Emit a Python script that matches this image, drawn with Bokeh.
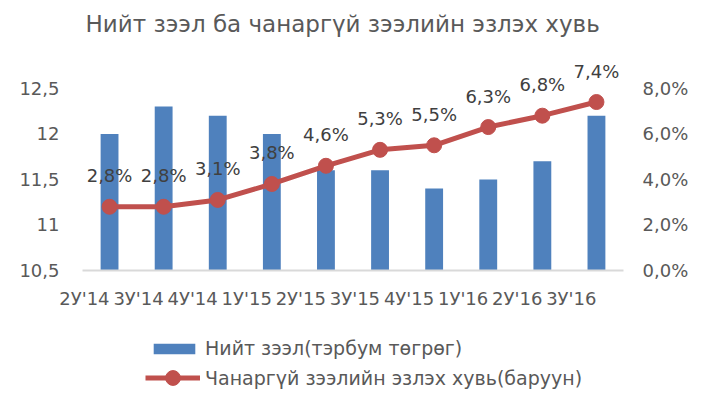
from bokeh.plotting import figure
from bokeh.layouts import column
from bokeh.models import (Range1d, LinearAxis, FixedTicker, CustomJSTickFormatter,
                          Legend, LegendItem, FactorRange, ColumnDataSource, Title)
from bokeh.core.properties import value
from bokeh.embed import file_html
from bokeh.resources import INLINE

# ---- data ----
categories = ["2У'14", "3У'14", "4У'14", "1У'15", "2У'15", "3У'15",
              "4У'15", "1У'16", "2У'16", "3У'16"]
total_loans = [12.0, 12.3, 12.2, 12.0, 11.6, 11.6, 11.4, 11.5, 11.7, 12.2]
npl_share = [2.8, 2.8, 3.1, 3.8, 4.6, 5.3, 5.5, 6.3, 6.8, 7.4]
left_ticks = [10.5, 11.0, 11.5, 12.0, 12.5]
right_ticks = [0, 2, 4, 6, 8]
title_text = "Нийт зээл ба чанаргүй зээлийн эзлэх хувь"
bar_label = "Нийт зээл(тэрбум төгрөг)"
line_label = "Чанаргүй зээлийн эзлэх хувь(баруун)"

BLUE = "#4f81bd"
RED = "#c0504d"
TXT = "#595959"
FONT = "DejaVu Sans"
FS = "18px"

src = ColumnDataSource(dict(
    cat=categories, loans=total_loans, npl=npl_share,
    lab=[f"{v:.1f}".replace(".", ",") + "%" for v in npl_share],
    base=[left_ticks[0]] * len(categories),
))

xr = FactorRange(*categories)

# ---- title strip ----
tf = figure(width=691, height=45, x_range=xr, y_range=Range1d(0, 1),
            output_backend="svg", toolbar_location=None,
            x_axis_location=None, y_axis_location=None,
            min_border=0, outline_line_color=None)
tf.grid.visible = False
tf.title = Title(text=title_text, text_font=FONT, text_font_size="23px",
                 text_color=TXT, text_font_style="normal", align="left",
                 offset=3, standoff=16)

# ---- main chart ----
p = figure(width=691, height=277, x_range=xr,
           y_range=Range1d(10.5, 12.806), output_backend="svg",
           toolbar_location=None, min_border_left=82, min_border_right=0,
           min_border_bottom=51, min_border_top=15)
p.extra_y_ranges = {"pct": Range1d(0, 9.224)}
p.title.visible = False

p.outline_line_color = None
p.xgrid.visible = False
p.ygrid.visible = False

# left axis
la = p.yaxis[0]
la.ticker = FixedTicker(ticks=left_ticks)
la.formatter = CustomJSTickFormatter(
    code="return (Math.round(tick*10)/10).toString().replace('.', ',');")
la.axis_line_color = None
la.major_tick_line_color = None
la.minor_tick_line_color = None
la.major_label_text_font = FONT
la.major_label_text_font_size = FS
la.major_label_text_color = TXT
la.major_label_standoff = 17

# right axis
ra = LinearAxis(y_range_name="pct", ticker=FixedTicker(ticks=right_ticks),
                formatter=CustomJSTickFormatter(
                    code="return tick.toFixed(1).replace('.', ',') + '%';"))
ra.axis_line_color = None
ra.major_tick_line_color = None
ra.minor_tick_line_color = None
ra.major_label_text_font = FONT
ra.major_label_text_font_size = FS
ra.major_label_text_color = TXT
ra.major_label_standoff = 13
p.add_layout(ra, "right")

# x axis
xa = p.xaxis[0]
xa.axis_line_color = "#d9d9d9"
xa.axis_line_width = 2
xa.major_tick_line_color = None
xa.minor_tick_line_color = None
xa.major_label_text_font = FONT
xa.major_label_text_font_size = FS
xa.major_label_text_color = TXT
xa.major_label_standoff = 22
xa.major_label_orientation = 0

p.vbar(x="cat", top="loans", bottom="base", width=0.33, source=src,
       fill_color=BLUE, line_color=None)
p.line(x="cat", y="npl", source=src, y_range_name="pct",
       line_color=RED, line_width=5)
p.scatter(x="cat", y="npl", source=src, y_range_name="pct", size=15,
          fill_color=RED, line_color=RED)
p.text(x="cat", y="npl", text="lab", source=src, y_range_name="pct",
       y_offset=-31, text_align="center", text_baseline="middle",
       text_font=value(FONT), text_font_size=FS, text_color="#404040")

# ---- legend strip: same series with zero-size marks out of the visible
# range, so only the legend swatches show ----
lg = figure(width=691, height=67, x_range=xr, y_range=Range1d(-2, -1),
            output_backend="svg", toolbar_location=None,
            x_axis_location=None, y_axis_location=None,
            min_border=0, outline_line_color=None)
lg.grid.visible = False
sw_bar = lg.vbar(x="cat", top="loans", bottom="base", width=0, source=src,
                 fill_color=BLUE, line_color=None)
sw_line = lg.line(x="cat", y="npl", source=src, line_color=RED, line_width=5)
sw_dot = lg.scatter(x="cat", y="npl", source=src, size=0,
                    fill_color=RED, line_color=RED)

common = dict(orientation="vertical", label_standoff=5, label_text_font=FONT,
              label_text_font_size="19px", label_text_color=TXT, padding=0,
              margin=0, border_line_color=None, background_fill_alpha=0)
leg1 = Legend(items=[LegendItem(label=bar_label, renderers=[sw_bar])],
              location=(66, 30), glyph_width=52, glyph_height=13, **common)
leg2 = Legend(items=[LegendItem(label=line_label, renderers=[sw_line, sw_dot])],
              location=(63, -7), glyph_width=55, glyph_height=37, **common)
lg.add_layout(leg1, "center")
lg.add_layout(leg2, "center")

layout = column(tf, p, lg, spacing=0)
open("out.html", "w").write(file_html(layout, INLINE))
